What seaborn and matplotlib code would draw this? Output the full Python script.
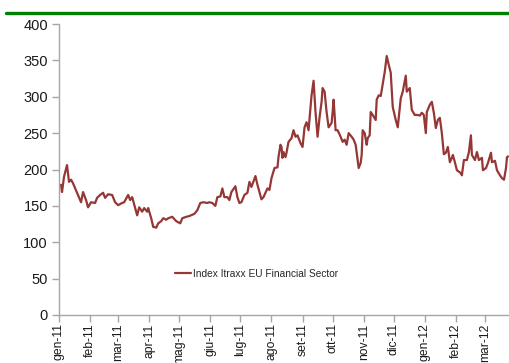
import matplotlib
matplotlib.use("Agg")
import matplotlib.pyplot as plt
import matplotlib.lines as mlines
import seaborn as sns
import pandas as pd

dates = [
    "2011-01-03", "2011-01-04", "2011-01-06", "2011-01-09", "2011-01-11", "2011-01-13", "2011-01-15",
    "2011-01-19", "2011-01-23", "2011-01-25", "2011-01-28", "2011-01-30", "2011-02-02", "2011-02-06",
    "2011-02-08", "2011-02-11", "2011-02-14", "2011-02-16", "2011-02-19", "2011-02-23", "2011-02-26",
    "2011-03-01", "2011-03-05", "2011-03-07", "2011-03-11", "2011-03-13", "2011-03-15", "2011-03-18",
    "2011-03-20", "2011-03-22", "2011-03-25", "2011-03-27", "2011-03-30", "2011-03-31", "2011-04-03",
    "2011-04-05", "2011-04-06", "2011-04-08", "2011-04-10", "2011-04-13", "2011-04-15", "2011-04-18",
    "2011-04-20", "2011-04-24", "2011-04-28", "2011-05-02", "2011-05-04", "2011-05-08", "2011-05-11",
    "2011-05-16", "2011-05-19", "2011-05-22", "2011-05-25", "2011-05-29", "2011-05-31", "2011-06-03",
    "2011-06-06", "2011-06-08", "2011-06-11", "2011-06-13", "2011-06-15", "2011-06-18", "2011-06-20",
    "2011-06-22", "2011-06-26", "2011-06-28", "2011-06-30", "2011-07-02", "2011-07-05", "2011-07-08",
    "2011-07-10", "2011-07-12", "2011-07-16", "2011-07-18", "2011-07-22", "2011-07-24", "2011-07-28",
    "2011-07-30", "2011-08-01", "2011-08-04", "2011-08-07", "2011-08-08", "2011-08-10", "2011-08-11",
    "2011-08-12", "2011-08-13", "2011-08-15", "2011-08-16", "2011-08-18", "2011-08-21", "2011-08-23",
    "2011-08-25", "2011-08-27", "2011-08-30", "2011-09-01", "2011-09-03", "2011-09-05", "2011-09-07",
    "2011-09-10", "2011-09-12", "2011-09-14", "2011-09-16", "2011-09-18", "2011-09-20", "2011-09-21",
    "2011-09-23", "2011-09-25", "2011-09-27", "2011-09-30", "2011-10-01", "2011-10-02", "2011-10-04",
    "2011-10-06", "2011-10-09", "2011-10-11", "2011-10-13", "2011-10-15", "2011-10-17", "2011-10-20",
    "2011-10-22", "2011-10-24", "2011-10-25", "2011-10-27", "2011-10-29", "2011-10-30", "2011-10-31",
    "2011-11-02", "2011-11-04", "2011-11-05", "2011-11-07", "2011-11-08", "2011-11-10", "2011-11-13",
    "2011-11-14", "2011-11-16", "2011-11-18", "2011-11-19", "2011-11-22", "2011-11-24", "2011-11-26",
    "2011-11-28", "2011-11-30", "2011-12-03", "2011-12-05", "2011-12-08", "2011-12-10", "2011-12-13",
    "2011-12-14", "2011-12-17", "2011-12-19", "2011-12-22", "2011-12-25", "2011-12-27", "2011-12-29",
    "2011-12-31", "2012-01-02", "2012-01-03", "2012-01-06", "2012-01-08", "2012-01-10", "2012-01-12",
    "2012-01-14", "2012-01-16", "2012-01-18", "2012-01-20", "2012-01-22", "2012-01-24", "2012-01-26",
    "2012-01-28", "2012-01-29", "2012-01-31", "2012-02-02", "2012-02-06", "2012-02-07", "2012-02-09",
    "2012-02-12", "2012-02-14", "2012-02-16", "2012-02-17", "2012-02-20", "2012-02-22", "2012-02-24",
    "2012-02-27", "2012-02-28", "2012-03-02", "2012-03-04", "2012-03-07", "2012-03-08", "2012-03-11",
    "2012-03-13", "2012-03-16", "2012-03-18", "2012-03-20", "2012-03-22", "2012-03-23", "2012-03-24",
]
values = [
    179, 169, 190, 206, 183, 186, 181,
    168, 155, 169, 158, 148, 155, 154,
    161, 165, 168, 161, 166, 165, 155,
    151, 154, 155, 165, 158, 162, 147,
    137, 148, 142, 147, 142, 147, 133,
    121, 121, 120, 126, 129, 133, 131,
    133, 135, 129, 126, 133, 135, 136,
    139, 144, 154, 155, 154, 155, 154,
    150, 162, 163, 174, 162, 162, 158,
    169, 177, 162, 154, 155, 165, 168,
    183, 176, 191, 179, 159, 162, 174,
    172, 188, 202, 203, 217, 234, 231,
    216, 224, 217, 223, 238, 243, 254,
    245, 247, 236, 231, 258, 265, 254,
    302, 322, 278, 245, 272, 293, 312,
    307, 279, 258, 264, 279, 296, 254,
    254, 245, 238, 241, 234, 250, 245,
    241, 234, 223, 202, 209, 220, 254,
    250, 234, 243, 247, 279, 275, 268,
    296, 302, 301, 309, 334, 356, 344,
    333, 286, 268, 258, 298, 307, 329,
    307, 312, 282, 275, 275, 274, 278,
    275, 250, 279, 289, 293, 278, 257,
    268, 271, 250, 221, 223, 231, 210,
    216, 220, 210, 199, 195, 192, 213,
    213, 224, 247, 220, 213, 224, 213,
    216, 199, 202, 209, 223, 210, 212,
    199, 192, 188, 186, 202, 217, 218,
]

tick_dates = ["2011-01-01", "2011-02-01", "2011-03-01", "2011-04-01", "2011-05-01",
              "2011-06-01", "2011-07-01", "2011-08-01", "2011-09-01", "2011-10-01",
              "2011-11-01", "2011-12-01", "2012-01-01", "2012-02-01", "2012-03-01"]
tick_labels = ["gen-11", "feb-11", "mar-11", "apr-11", "mag-11", "giu-11", "lug-11",
               "ago-11", "set-11", "ott-11", "nov-11", "dic-11", "gen-12", "feb-12", "mar-12"]
series_name = "Index Itraxx EU Financial Sector"

sns.set_style("white")
plt.rcParams["font.family"] = ["Liberation Sans Narrow", "Liberation Sans", "DejaVu Sans"]

df = pd.DataFrame({"date": pd.to_datetime(dates), "value": values})

fig = plt.figure(figsize=(5.09, 3.63), dpi=100)
ax = fig.add_axes([59 / 509, 1 - 315 / 363, 450 / 509, 291 / 363])

sns.lineplot(data=df, x="date", y="value", ax=ax, color="#953735", linewidth=1.6,
             label=series_name)

ax.set_xlim(pd.Timestamp("2011-01-01"), pd.Timestamp("2012-03-25"))
ax.set_ylim(0, 400)
ax.set_yticks(range(0, 401, 50))
ax.set_xticks(pd.to_datetime(tick_dates))
ax.set_xticklabels(tick_labels, rotation=90)
ax.set_xlabel("")
ax.set_ylabel("")

for s in ["top", "right"]:
    ax.spines[s].set_visible(False)
for s in ["left", "bottom"]:
    ax.spines[s].set_color("#a6a6a6")
    ax.spines[s].set_linewidth(1.0)

ax.tick_params(axis="both", which="major", direction="out", length=5, width=1,
               color="#a6a6a6", labelsize=10.5, labelcolor="#1a1a1a", pad=3, bottom=True, left=True)
ax.tick_params(axis="x", labelsize=8.7, pad=1)

leg = ax.legend(loc="center left", bbox_to_anchor=((175 - 59) / 450, (315 - 274) / 291),
                frameon=False, borderpad=0, borderaxespad=0, handlelength=1.6,
                handletextpad=0.15, fontsize=7.3)

fig.add_artist(mlines.Line2D([6 / 509, 1.0], [1 - 13 / 363, 1 - 13 / 363],
                             color="#008000", linewidth=2.4, transform=fig.transFigure))

fig.savefig("out.png", dpi=100)
